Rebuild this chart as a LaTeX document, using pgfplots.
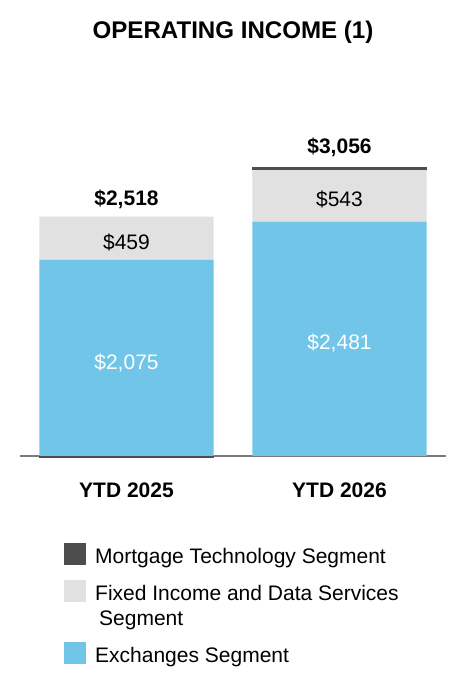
\documentclass[border=0pt]{standalone}
\usepackage{pgfplots}
\pgfplotsset{compat=1.18}
\usepackage{fontspec}
\setmainfont{Liberation Sans}
\definecolor{exch}{HTML}{71C5E8}
\definecolor{fids}{HTML}{E1E1E1}
\definecolor{mort}{HTML}{4D4D4D}
\definecolor{base}{HTML}{7A7A7A}
\newcommand\lfont{\fontsize{21}{25}\selectfont}
\pgfplotsset{
  legsqA/.style={legend image code/.code={\fill[##1] (0pt,-8.3pt) rectangle (22pt,13.7pt);}},
  legsqB/.style={legend image code/.code={\fill[##1] (0pt,4.2pt) rectangle (22pt,26.2pt);}},
}
\begin{document}
\begin{tikzpicture}[x=1pt,y=1pt]
\useasboundingbox (0,0) rectangle (466,700);
\node[anchor=base, font=\fontsize{24.1}{28}\selectfont\bfseries] at (233,661.5) {OPERATING INCOME (1)};
\begin{axis}[
  at={(20pt,234.55pt)}, anchor=south west, scale only axis,
  width=426pt, height=321.3pt,
  xmin=-0.5, xmax=1.5, ymin=-100, ymax=3300,
  ybar stacked, bar width=0.817,
  axis line style={draw=none},
  ytick=\empty, xtick={0,1}, xticklabels={YTD 2025,YTD 2026},
  major tick length=0pt,
  xticklabel style={font=\lfont\bfseries, yshift=-14pt},
  extra y ticks={0}, extra y tick labels={},
  extra y tick style={grid=major, major grid style={draw=base, line width=1.5pt}},
  clip=false,
  reverse legend,
  legend cell align=left,
  legend style={draw=none, fill=none, inner sep=0pt, anchor=north west,
    at={(0.1033,-0.242)}, font=\lfont, cells={align=left},
    row sep=12.5pt, /tikz/every odd column/.style={column sep=7pt}},
]
\addplot[fill=exch, draw=none, legsqA] coordinates {(0,2075) (1,2481)};
\addlegendentry{Exchanges Segment}
\addplot[fill=fids, draw=none, legsqB] coordinates {(0,459) (1,543)};
\addlegendentry{Fixed Income and Data Services\\\hspace{4pt}Segment}
\addplot[fill=mort, draw=none, legsqA] coordinates {(0,0) (1,32)};
\addlegendentry{Mortgage Technology Segment}
\end{axis}
\begin{axis}[
  at={(20pt,234.55pt)}, anchor=south west, scale only axis,
  width=426pt, height=321.3pt,
  xmin=-0.5, xmax=1.5, ymin=-100, ymax=3300,
  hide axis, clip=false,
]
\addplot[ybar, bar width=0.817, fill=mort, draw=none] coordinates {(0,-16)};
\addplot[draw=none, mark=none, nodes near coords, point meta=explicit symbolic,
  every node near coord/.append style={anchor=base, font=\lfont\bfseries, text=black}]
  coordinates {(0,2656) [\$2,518] (1,3196) [\$3,056]};
\addplot[draw=none, mark=none, nodes near coords, point meta=explicit symbolic,
  every node near coord/.append style={anchor=base, font=\lfont, text=black}]
  coordinates {(0,2180) [\$459] (1,2635) [\$543]};
\addplot[draw=none, mark=none, nodes near coords, point meta=explicit symbolic,
  every node near coord/.append style={anchor=base, font=\lfont, text=white}]
  coordinates {(0,915) [\$2,075] (1,1127) [\$2,481]};
\end{axis}
\end{tikzpicture}
\end{document}
